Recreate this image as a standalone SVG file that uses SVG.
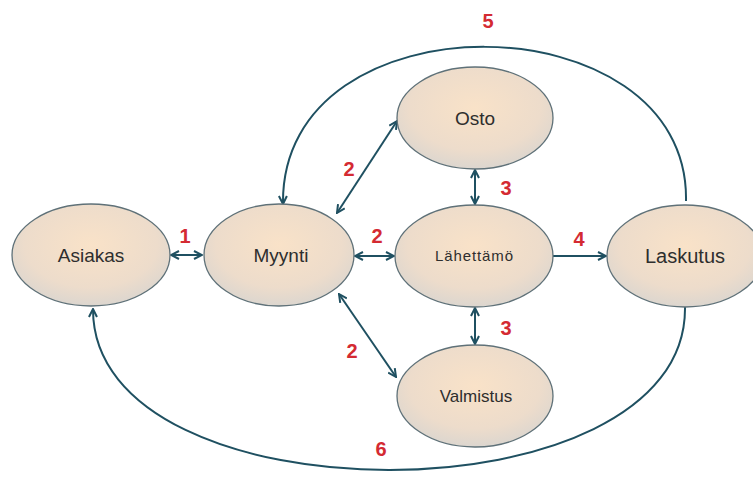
<svg xmlns="http://www.w3.org/2000/svg" width="753" height="500" viewBox="0 0 753 500">
<style>
.node{fill:url(#g);stroke:#5f7178;stroke-width:1.3}
.t{font-family:"Liberation Sans",Arial,sans-serif;font-size:19px;fill:#2e2e2e;text-anchor:middle}
.ts{font-size:15px}
.c{fill:none;stroke:#1f5061;stroke-width:2}
.c2{marker-start:url(#a);marker-end:url(#a)}
.c1{marker-end:url(#a)}
.l{font-family:"Liberation Sans",Arial,sans-serif;font-size:20px;font-weight:bold;fill:#d42a32;text-anchor:middle}
</style>
<defs>
<radialGradient id="g" cx="0.5" cy="0.4" r="0.6">
<stop offset="0" stop-color="#f9e2c8"/>
<stop offset="0.7" stop-color="#eddccb"/>
<stop offset="1" stop-color="#dcd6cf"/>
</radialGradient>
<marker id="a" viewBox="0 0 10 10" refX="9" refY="5" markerWidth="5" markerHeight="5" orient="auto-start-reverse" markerUnits="strokeWidth">
<path d="M1 1 L9 5 L1 9" fill="none" stroke="#1f5061" stroke-width="2"/>
</marker>
</defs>
<g id="connectors">
<path class="c c2" d="M171 255 H202"/>
<path class="c c2" d="M355 256 H394"/>
<path class="c c2" d="M337 213 L397 121"/>
<path class="c c2" d="M339 294 L396 377"/>
<path class="c c2" d="M475 170 V204"/>
<path class="c c2" d="M475 308 V344"/>
<path class="c c1" d="M553 256 H606"/>
<path class="c c1" d="M686 201 C690 -2 280 -8 283 204"/>
<path class="c c1" d="M685 307 C688 524 92 524 93 309"/>
</g>
<g id="asiakas"><ellipse class="node" cx="91" cy="255" rx="79" ry="51"/><text class="t" x="91" y="262">Asiakas</text></g>
<g id="myynti"><ellipse class="node" cx="279" cy="255" rx="75" ry="51"/><text class="t" x="281" y="262">Myynti</text></g>
<g id="lahettamo"><ellipse class="node" cx="474" cy="256" rx="79" ry="51"/><text class="t ts" x="474" y="261" textLength="78" lengthAdjust="spacing">Lähettämö</text></g>
<g id="osto"><ellipse class="node" cx="475" cy="118" rx="78" ry="51"/><text class="t" x="475" y="125">Osto</text></g>
<g id="valmistus"><ellipse class="node" cx="475" cy="396" rx="78" ry="51"/><text class="t" x="476" y="402" style="font-size:17px">Valmistus</text></g>
<g id="laskutus"><ellipse class="node" cx="685" cy="256" rx="78" ry="51"/><text class="t" x="685" y="263" style="font-size:20px">Laskutus</text></g>
<g id="labels">
<text class="l" x="185" y="243">1</text>
<text class="l" x="377" y="243">2</text>
<text class="l" x="349" y="176">2</text>
<text class="l" x="352" y="358">2</text>
<text class="l" x="506" y="195">3</text>
<text class="l" x="506" y="335">3</text>
<text class="l" x="579" y="246">4</text>
<text class="l" x="488" y="28">5</text>
<text class="l" x="381" y="456">6</text>
</g>
</svg>
